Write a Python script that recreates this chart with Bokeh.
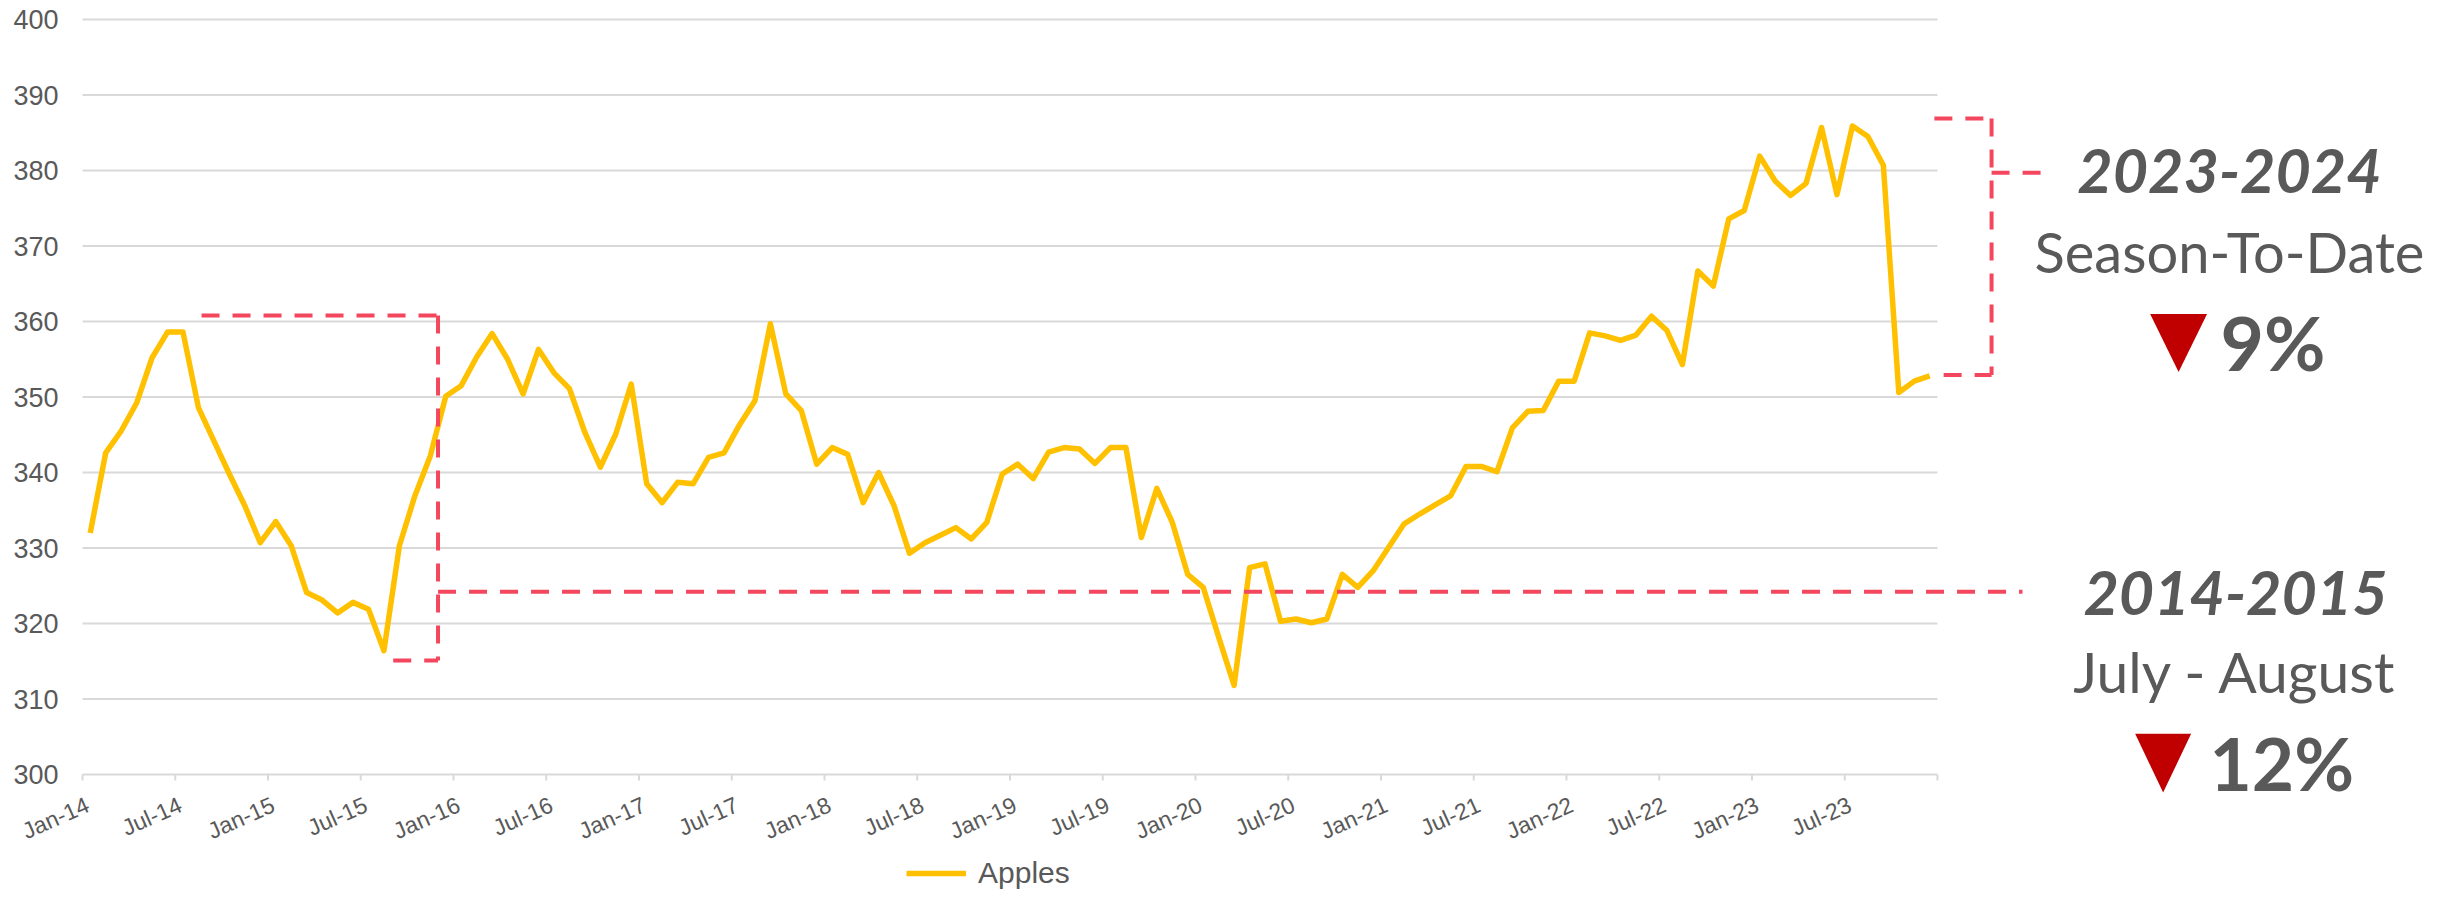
import math
from bokeh.plotting import figure
from bokeh.models import Arrow, PolyAnnotation, Range1d
from bokeh.core.properties import value
from bokeh.embed import file_html
from bokeh.resources import INLINE

# ---------------- data ----------------
years = ["14", "15", "16", "17", "18", "19", "20", "21", "22", "23"]
month_names = ["Jan", "Feb", "Mar", "Apr", "May", "Jun",
               "Jul", "Aug", "Sep", "Oct", "Nov", "Dec"]
months = [f"{m}-{y}" for y in years for m in month_names]

apples = [
    332.0, 342.6, 345.5, 349.2, 355.2, 358.6, 358.6, 348.6, 344.2, 339.8, 335.6, 330.7,  # 2014
    333.5, 330.3, 324.1, 323.1, 321.4, 322.8, 321.9, 316.4, 330.3, 336.9, 342.2, 350.1,  # 2015
    351.5, 355.3, 358.4, 355.0, 350.4, 356.3, 353.2, 351.1, 345.3, 340.7, 345.1, 351.7,  # 2016
    338.5, 336.0, 338.7, 338.5, 342.0, 342.6, 346.3, 349.5, 359.7, 350.4, 348.2, 341.1,  # 2017
    343.3, 342.4, 336.0, 340.0, 335.6, 329.3, 330.7, 331.7, 332.7, 331.2, 333.4, 339.8,  # 2018
    341.1, 339.2, 342.7, 343.3, 343.1, 341.2, 343.3, 343.3, 331.4, 337.9, 333.4, 326.5,  # 2019
    324.8, 318.2, 311.8, 327.4, 327.9, 320.3, 320.6, 320.1, 320.6, 326.5, 324.8, 327.0,  # 2020
    330.1, 333.2, 334.5, 335.7, 336.9, 340.8, 340.8, 340.1, 345.9, 348.1, 348.2, 352.1,  # 2021
    352.1, 358.5, 358.1, 357.5, 358.2, 360.7, 358.8, 354.3, 366.7, 364.7, 373.6, 374.7,  # 2022
    381.9, 378.6, 376.7, 378.3, 385.7, 376.8, 385.9, 384.5, 380.7, 350.6, 352.1, 352.8,  # 2023
]

tick_labels = ["Jan-14", "Jul-14", "Jan-15", "Jul-15", "Jan-16", "Jul-16", "Jan-17",
               "Jul-17", "Jan-18", "Jul-18", "Jan-19", "Jul-19", "Jan-20", "Jul-20",
               "Jan-21", "Jul-21", "Jan-22", "Jul-22", "Jan-23", "Jul-23"]
y_ticks = [300, 310, 320, 330, 340, 350, 360, 370, 380, 390, 400]

# annotation levels (values on the y scale)
old_top, old_low, old_level = 360.8, 315.1, 324.2
new_top, new_low, new_mid = 386.9, 352.9, 379.7

# ---------------- layout constants ----------------
PX_X = 15.458      # pixels per month
PX_Y = 7.55        # pixels per unit
W, H = 2442, 890
X0 = 82            # canvas x of the first month boundary
Y0 = 774           # canvas y of value 300

n = len(apples)
x = [i + 0.5 for i in range(n)]

p = figure(width=W, height=H,
           x_range=Range1d(-X0 / PX_X, (W - X0) / PX_X),
           y_range=Range1d(300 - (H - Y0) / PX_Y, 300 + Y0 / PX_Y),
           output_backend="svg", toolbar_location=None, title=None,
           x_axis_location=None, y_axis_location=None,
           min_border_left=0, min_border_right=0, min_border_top=0, min_border_bottom=0)
p.outline_line_color = None
p.background_fill_color = "white"
p.border_fill_color = "white"
p.xgrid.grid_line_color = None
p.ygrid.grid_line_color = None

grey = "#595959"
gridc = "#D9D9D9"
red = "#F4475E"

# horizontal gridlines limited to the plot area
p.segment(x0=[0] * len(y_ticks), x1=[n] * len(y_ticks), y0=y_ticks, y1=y_ticks,
          line_color=gridc, line_width=2)

# y tick labels
p.text(x=[-24 / PX_X] * len(y_ticks), y=y_ticks, text=[str(v) for v in y_ticks],
       text_align="right", text_baseline="middle",
       text_font=value("Liberation Sans"), text_font_size="27px", text_color=grey)

# x axis ticks and rotated labels
tick_pos = [months.index(t) for t in tick_labels] + [n]
p.segment(x0=tick_pos, x1=tick_pos, y0=[300] * len(tick_pos),
          y1=[300 - 6 / PX_Y] * len(tick_pos), line_color=gridc, line_width=2)
lab_x = [months.index(t) + 5.3 / PX_X for t in tick_labels]
lab_y = [300 - 29 / PX_Y] * len(tick_labels)
p.text(x=lab_x, y=lab_y, text=tick_labels, angle=math.radians(24),
       text_align="right", text_baseline="middle",
       text_font=value("Liberation Sans"), text_font_size="23px", text_color=grey)

# series
p.line(x, apples, line_color="#FFC000", line_width=5.5, line_join="round",
       legend_label="Apples")

leg = p.legend[0]
leg.location = (906, 0)
leg.padding = 0
leg.margin = 0
leg.spacing = 0
leg.border_line_color = None
leg.background_fill_alpha = 0
leg.glyph_width = 60
leg.glyph_height = 22
leg.label_height = 22
leg.label_standoff = 12
leg.label_text_font = "Liberation Sans"
leg.label_text_font_size = "30px"
leg.label_text_color = grey

# dashed annotation brackets
segs = [
    (7.7, old_top, 23.0, old_top),
    (23.0, old_top, 23.0, old_low),
    (20.1, old_low, 23.0, old_low),
    (23.0, old_level, 125.5, old_level),
    (119.8, new_top, 123.5, new_top),
    (123.5, new_top, 123.5, new_low),
    (120.4, new_low, 123.5, new_low),
    (123.5, new_mid, 127.1, new_mid),
]
for xs, ys, xe, ye in segs:
    p.add_layout(Arrow(end=None, start=None, x_start=xs, y_start=ys, x_end=xe, y_end=ye,
                       line_color=red, line_width=4, line_dash="18 13"))

# texts (baseline positions; small lift compensates the renderer's baseline placement)
def lab(xv, yv, txt, size_px, style="normal", align="center"):
    lift = 0.40 * size_px / PX_Y
    p.text(x=[xv], y=[yv + lift], text=[txt], text_align=align, text_baseline="alphabetic",
           text_font=value("Lato"), text_font_size=f"{size_px}px", text_font_style=style,
           text_color=grey)

lab(138.89, 376.69, "2023-2024", 61, "bold italic")
lab(138.89, 366.36, "Season-To-Date", 56)
lab(138.31, 353.25, "9%", 75, "bold", "left")
lab(139.28, 320.79, "2014-2015", 61, "bold italic")
lab(139.28, 310.73, "July - August", 57)
lab(137.60, 297.62, "12%", 73, "bold", "left")

# down triangles
p.add_layout(PolyAnnotation(xs=[133.76, 137.44, 135.6], ys=[361.0, 361.0, 353.3],
                            fill_color="#C00000", fill_alpha=1, line_color=None))
p.add_layout(PolyAnnotation(xs=[132.79, 136.41, 134.6], ys=[305.4, 305.4, 297.6],
                            fill_color="#C00000", fill_alpha=1, line_color=None))

open("out.html", "w").write(file_html(p, INLINE))
